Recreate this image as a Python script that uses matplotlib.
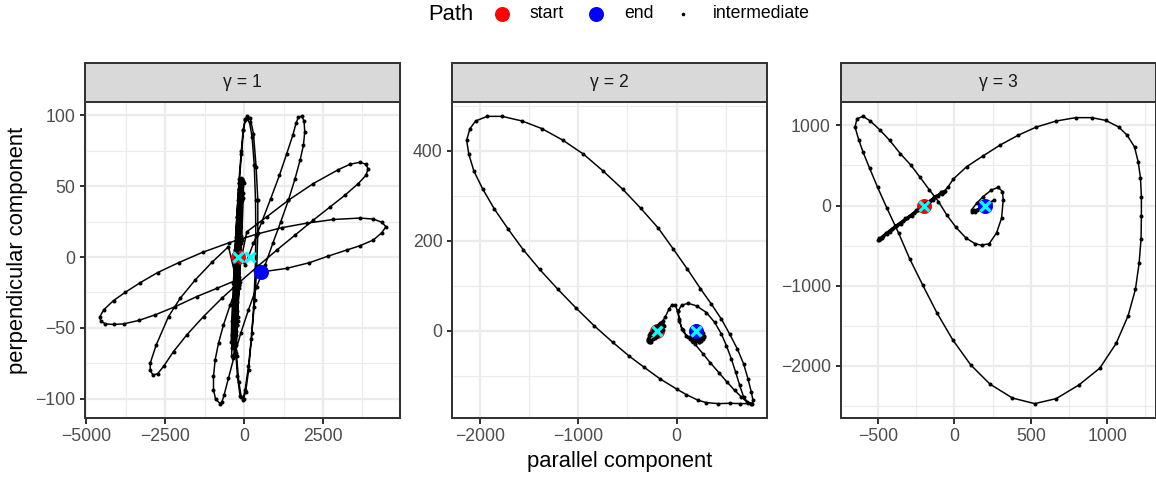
import matplotlib
matplotlib.use("Agg")
import matplotlib.pyplot as plt
from matplotlib.lines import Line2D

plt.rcParams['font.family'] = ['Liberation Sans', 'DejaVu Sans']

# strength parameter of each facet
gammas = [1, 2, 3]

# the two fixed centres on the parallel axis
centre_x = [-200, 200]
centre_y = [0, 0]

# trajectory for gamma = 1 (parallel, perpendicular)
path_g1 = [
    # bouncing near the start
    (-200, 0), (-180, 22), (-160, 40), (-140, 50), (-138, 44), (-158, 20), (-185, -8), (-215, -32),
    (-240, -48), (-250, -45), (-232, -20), (-205, 8), (-175, 32), (-150, 48), (-128, 52), (-126, 45),
    (-150, 18), (-182, -12), (-215, -38), (-248, -55), (-262, -52), (-245, -25), (-215, 5), (-185, 30),
    (-155, 48), (-118, 53), (-112, 46), (-138, 18), (-172, -14), (-210, -42), (-255, -62), (-275, -60),
    (-258, -32), (-225, 2), (-190, 30), (-158, 47), (-100, 52), (-95, 45), (-122, 16), (-160, -16),
    (-205, -45), (-262, -68), (-290, -70), (-272, -40), (-236, -5), (-200, 25), (-165, 44), (-120, 50),
    (-85, 48), (-90, 40), (-125, 12), (-170, -20), (-225, -48), (-300, -66), (-360, -71), (-395, -70),
    (-380, -55), (-330, -30), (-270, 0), (-215, 28), (-158, 52),
    (-60, 50), (-70, 40), (-115, 10), (-175, -22), (-240, -45), (-300, -55), (-318, -50), (-290, -25),
    (-240, 5), (-180, 32), (-110, 50), (-40, 54), (-45, 45), (-95, 15), (-160, -18), (-230, -42),
    (-310, -58), (-345, -60), (-330, -38), (-280, -8), (-220, 22), (-150, 45), (-80, 55), (-20, 52),
    (-30, 42), (-80, 12), (-150, -20), (-230, -45), (-330, -62), (-370, -64), (-352, -42), (-300, -10),
    (-240, 20), (-170, 44), (-100, 56), (-60, 55), (-75, 44), (-130, 14), (-200, -18), (-270, -40),
    (-350, -55), (-410, -60), (-395, -45), (-340, -18), (-270, 14), (-200, 40), (-158, 52),
    # narrow vertical loops
    (-84, 73), (-21, 89.4), (42, 97.6), (105, 99.3), (190, 98.3), (295, 87.1), (380, 63.6), (433, 40.1),
    (433, 16.7), (401, -6.8), (338, -30.3), (243, -53.7), (137, -77.2), (32, -93.6), (-42, -100.7),
    (-127, -98.3), (-211, -84.3), (-274, -65.5), (-317, -42), (-317, -18.5), (-285, 4.9), (-232, 28.4),
    (-160, 55), (-90, 75), (-30, 90), (30, 97), (84, 98), (170, 95), (250, 85), (320, 65), (360, 40),
    (370, 15), (350, -10), (300, -35), (230, -58), (140, -80), (50, -95), (-20, -100), (-90, -99),
    (-170, -88), (-240, -70), (-290, -45), (-300, -20), (-280, 5),
    # first tilted loop
    (32, -5.6), (295, 9.6), (559, 24.9), (844, 41.3), (1118, 57.7), (1350, 73.0), (1540, 85.9),
    (1646, 94.6), (1720, 98.8), (1825, 99.3), (1899, 96.0), (1920, 88.2), (1878, 78.9), (1772, 68.3),
    (1614, 55.4), (1403, 40.1), (1160, 24.9), (907, 9.6), (665, -5.6), (401, -20.9), (137, -37.3),
    (-106, -53.7), (-317, -70.2), (-496, -85.4), (-633, -97.2), (-707, -102.6), (-760, -103.5),
    (-907, -100.2), (-971, -93.6), (-971, -84.3), (-918, -72.5), (-812, -60.8), (-654, -47.9),
    (-443, -33.8), (-211, -19.7),
    # second tilted loop
    (-496, 7.3), (-1023, -3.8), (-1551, -16.2), (-2026, -29.1), (-2395, -42.0), (-2785, -62.0),
    (-2975, -74.9), (-2975, -80.0), (-2891, -83.3), (-2743, -82.4), (-2553, -77.2), (-2237, -66.7),
    (-1815, -54.9), (-1287, -42.0), (-707, -29.1), (-127, -17.4), (454, -6.1), (1034, 4.9),
    (1614, 15.5), (2194, 26.1), (2722, 35.4), (3197, 43.7), (3619, 51.9), (3861, 57.7), (3925, 62.2),
    (3861, 65.5), (3671, 66.9), (3355, 65.5), (2986, 61.7), (2194, 51.9), (1403, 40.1), (717, 28.4),
    (84, 17.8),
    # widest loop, ending on its lower edge
    (-232, -16.2), (-865, -22.1), (-1498, -27.9), (-2184, -35.0), (-2817, -40.8), (-3344, -44.8),
    (-3819, -47.2), (-4136, -47.6), (-4399, -47.2), (-4537, -45.3), (-4579, -42.5), (-4452, -37.3),
    (-4136, -30.7), (-3766, -24.9), (-3292, -18.1), (-2743, -11.0), (-2078, -4.0), (-1319, 3.3),
    (-475, 10.1), (401, 16.2), (1192, 20.7), (1983, 23.9), (2827, 26.5), (3671, 27.5), (4093, 26.8),
    (4357, 24.6), (4494, 21.4), (4357, 17.1), (4093, 12.0), (3671, 8.0), (3249, 4.9), (2669, 0.7),
    (2068, -4.0), (1350, -8.0), (528, -10.6),
]

# trajectory for gamma = 2
path_g2 = [
    (-200, 0), (-243, -9.6), (-284, -19.9), (-277, -24.3), (-236, -18.4), (-182, -3.7), (-142, 9.6),
    (-128, 11.0), (-142, 2.2), (-196, -11.0), (-257, -21.4), (-287, -19.9), (-263, -7.4), (-203, 6.6),
    (-152, 15.5), (-140, 12), (-160, 0), (-210, -14), (-262, -24), (-290, -22), (-280, -10),
    (-235, 2), (-185, 12), (-145, 18), (-135, 12), (-165, -2), (-220, -16), (-270, -25), (-292, -18),
    (-268, -4), (-215, 8), (-165, 18), (-140, 22),
    (-118, 29.5), (-74, 49.4), (-44, 58.2), (-14, 56.7), (10, 44.2), (27, 25.8),
    (54, 3.7), (101, -12.5), (162, -22.8), (230, -25.8), (270, -18.4), (263, -7.4), (209, 0),
    (152, -3.7), (186, -29.5), (270, -51.6), (344, -71.5), (432, -93.5), (513, -114.2), (591, -132.6),
    (659, -147.3), (716, -158.4), (760, -162.1), (642, -162), (540, -161.3), (422, -162.1),
    (304, -159.8), (220, -154.7), (101, -142.2), (7, -130.4), (-169, -106.8), (-331, -81.0),
    (-480, -56.7), (-648, -25.8), (-837, 11.0), (-1020, 50.1), (-1206, 92.1), (-1391, 136.3),
    (-1560, 180.5), (-1712, 226.1), (-1851, 270.3), (-1969, 314.5), (-2060, 355.0), (-2111, 391.9),
    (-2134, 423.5), (-2100, 449.3), (-2043, 466.3), (-1925, 476.6), (-1773, 476.6), (-1570, 466.3),
    (-1368, 449.3), (-1155, 423.5), (-946, 392.6), (-750, 355.8), (-547, 314.5), (-365, 272.5),
    (-186, 228.3), (-34, 181.9), (108, 137.7), (243, 93.5), (355, 58.9), (456, 25.8), (540, -7.4),
    (618, -40.5), (682, -73.7), (726, -106.8), (760, -136.3), (777, -154.7), (770, -162.1),
    (726, -159.8), (682, -147.3), (642, -121.5), (601, -92.1), (557, -62.6), (507, -33.1),
    (456, -7.4), (388, 18.4), (304, 40.5), (203, 55.2), (118, 61.1), (51, 56.7), (17, 44.2),
    (27, 22.1), (61, 2.2), (118, -14.7), (186, -24.3), (253, -22.8), (277, -12.5), (230, -3.7),
    (169, -3.7), (142, -12.5), (186, -19.9), (253, -16.9), (253, -7.4),
    (160, -8), (140, -18), (170, -26), (230, -24), (275, -14), (265, -4), (215, 2), (165, -6),
    (150, -16), (190, -22), (245, -18), (262, -8), (200, 0),
]

# trajectory for gamma = 3
path_g3 = [
    (-200, 0), (-160, 60), (-120, 115), (-85, 160), (-70, 175), (-85, 165), (-130, 110), (-185, 30),
    (-250, -60), (-320, -160), (-390, -255), (-450, -345), (-490, -410), (-500, -432), (-485, -420),
    (-440, -350), (-380, -260), (-310, -160), (-240, -60), (-170, 40), (-110, 125), (-75, 170),
    (-62, 180), (-80, 168), (-125, 105), (-195, 8), (-265, -90), (-335, -190), (-405, -290),
    (-465, -375), (-495, -425), (-475, -410), (-420, -335), (-350, -235), (-280, -135), (-210, -35),
    (-140, 65), (-80, 150), (-40, 235), (-7, 330), (80, 484), (185, 616), (298, 753), (417, 877),
    (537, 980), (667, 1055), (794, 1097), (898, 1097), (990, 1063), (1076, 980), (1131, 877),
    (1179, 732), (1203, 546), (1218, 347), (1224, 112), (1224, -136), (1222, -413), (1209, -723),
    (1185, -1046), (1137, -1377), (1059, -1720), (952, -2030), (815, -2240), (667, -2410),
    (526, -2473), (380, -2403), (233, -2229), (107, -1989), (-11, -1675), (-115, -1336),
    (-207, -993), (-293, -662), (-365, -343), (-441, -33), (-502, 227), (-554, 463), (-598, 670),
    (-626, 823), (-650, 980), (-637, 1084), (-598, 1113), (-550, 1055), (-489, 947), (-424, 815),
    (-354, 649), (-285, 505), (-224, 352), (-163, 194), (-104, 50), (-50, -116), (11, -273),
    (76, -405), (135, -476), (178, -496), (228, -476), (276, -343), (309, -157), (320, 70),
    (315, 174), (287, 227), (243, 194), (189, 112), (146, 29), (113, -54), (135, -87), (178, -45),
    (233, 37), (259, 70), (235, 30), (180, -20), (130, -60), (118, -75), (150, -50), (200, 0),
]

paths = [path_g1, path_g2, path_g3]
x_major = [[-5000, -2500, 0, 2500], [-2000, -1000, 0], [-500, 0, 500, 1000]]
y_major = [[-100, -50, 0, 50, 100], [0, 200, 400], [-2000, -1000, 0, 1000]]

W, H = 1156, 478
fig = plt.figure(figsize=(W / 144, H / 144), dpi=144)
fig.patch.set_facecolor('white')

lefts = [85.3, 452.3, 840.7]
pw = 315
top, bottom, strip_top = 102, 418, 63.3
dark = '#333333'


def minor_of(major):
    step = major[1] - major[0]
    return [major[0] - step / 2] + [m + step / 2 for m in major]


def padded(vals):
    lo, hi = min(vals), max(vals)
    d = 0.05 * (hi - lo)
    return lo - d, hi + d


for i, g in enumerate(gammas):
    px = [p[0] for p in paths[i]]
    py = [p[1] for p in paths[i]]
    ax = fig.add_axes([lefts[i] / W, 1 - bottom / H, pw / W, (bottom - top) / H])

    ax.plot(px, py, color='black', lw=0.75, zorder=3)
    ax.plot(px[:1], py[:1], 'o', color='#FF0000', ms=7.5, mew=0, zorder=3.5)
    ax.plot(px[1:-1], py[1:-1], 'o', color='black', ms=2.0, mew=0, zorder=4)
    ax.plot(px[-1:], py[-1:], 'o', color='#0000FF', ms=7.5, mew=0, zorder=5)
    ax.plot(centre_x, centre_y, 'x', color='#00FFFF', ms=5.2, mew=1.6, zorder=6)

    ax.set_xticks(x_major[i])
    ax.set_yticks(y_major[i])
    ax.set_xticks(minor_of(x_major[i]), minor=True)
    ax.set_yticks(minor_of(y_major[i]), minor=True)
    ax.set_xlim(*padded(px))
    ax.set_ylim(*padded(py))

    ax.grid(which='major', color='#EBEBEB', lw=1.1, zorder=0)
    ax.grid(which='minor', color='#EBEBEB', lw=0.55, zorder=0)
    ax.set_axisbelow(True)
    ax.tick_params(which='major', direction='out', length=2.75, width=1.0, color=dark,
                   labelcolor='#4D4D4D', labelsize=8.8, pad=2.2)
    ax.tick_params(which='minor', length=0)
    for s in ax.spines.values():
        s.set_color(dark)
        s.set_linewidth(1.0)

    # facet strip
    sx = fig.add_axes([lefts[i] / W, 1 - top / H, pw / W, (top - strip_top) / H])
    sx.set_facecolor('#D9D9D9')
    sx.set_xticks([])
    sx.set_yticks([])
    for s in sx.spines.values():
        s.set_color(dark)
        s.set_linewidth(1.0)
    sx.text(0.5, 0.5, 'γ = %d' % g, transform=sx.transAxes, ha='center', va='center',
            fontsize=8.8, color='#1A1A1A')

fig.text(620 / W, 1 - 462 / H, 'parallel component', ha='center', va='center', fontsize=11)
fig.text(18 / W, 1 - 250 / H, 'perpendicular component', rotation=90,
         ha='center', va='center', fontsize=11)

# legend across the top
ly = 1 - 14 / H
fig.text(428 / W, ly, 'Path', ha='left', va='center', fontsize=11)
for cx, col, ms, lx, lab in [(501.7, '#FF0000', 7.5, 530, 'start'),
                             (595.7, '#0000FF', 7.5, 624, 'end'),
                             (683.3, 'black', 1.8, 712.7, 'intermediate')]:
    fig.add_artist(Line2D([cx / W], [ly], transform=fig.transFigure, marker='o',
                          ls='', color=col, ms=ms, mew=0))
    fig.text(lx / W, ly, lab, ha='left', va='center', fontsize=8.8)

fig.savefig('out.png', dpi=144)
